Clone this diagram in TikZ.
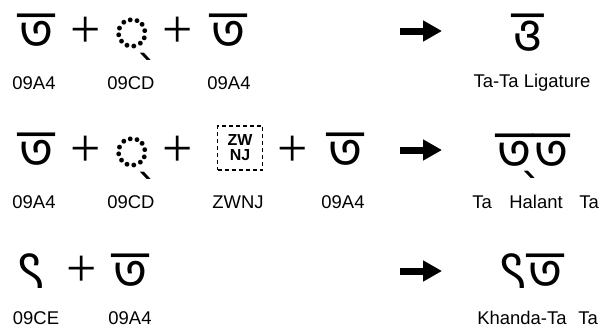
\documentclass[tikz,border=0pt]{standalone}
\usepackage{fontspec}
\setmainfont{Liberation Sans}
\newfontfamily\bn[Script=Bengali]{Hind Siliguri}
\newfontfamily\plusfont{Liberation Serif}
\usetikzlibrary{arrows.meta}
\tikzset{
  glyph/.style={inner sep=0pt, anchor=base, text height=36bp, text depth=6bp, font=\bn\fontsize{54}{56}\selectfont},
  plussign/.style={inner sep=0pt, font=\plusfont\fontsize{54}{56}\selectfont},
  lbl/.style={inner sep=0pt, font=\fontsize{18.5}{20}\selectfont},
  zwbox/.style={draw, dash pattern=on 4bp off 3bp, line width=1.3bp, minimum width=45bp, minimum height=44bp, inner sep=0pt, align=center, font=\bfseries\fontsize{16}{16}\selectfont},
  bigarrow/.style={line width=7bp, -{Triangle[length=19bp,width=20bp]}}
}
\begin{document}
\begin{tikzpicture}[x=1bp,y=-1bp]
\useasboundingbox (0,0) rectangle (600,331);
% Row 1
\node[glyph] (r1a) at (37,48) {ত};
\node[plussign] (r1p1) at (86,32) {+};
\node[glyph] (r1b) at (132,50) {◌্};
\node[plussign] (r1p2) at (178,32) {+};
\node[glyph] (r1c) at (229,48) {ত};
\coordinate (r1s) at (400,31);
\coordinate (r1e) at (442,31);
\draw[bigarrow] (r1s) -- (r1e);
\node[glyph] (r1r) at (528,48) {ত্ত};
\node[lbl] (l1a) at (34,83) {09A4};
\node[lbl] (l1b) at (131,83) {09CD};
\node[lbl] (l1c) at (229,83) {09A4};
\node[lbl] (l1r) at (532,83) {Ta-Ta Ligature};
% Row 2
\node[glyph] (r2a) at (37,167) {ত};
\node[plussign] (r2p1) at (86,151) {+};
\node[glyph] (r2b) at (132,169) {◌্};
\node[plussign] (r2p2) at (178,151) {+};
\node[zwbox] (r2z) at (240,148) {ZW\\[-1bp]NJ};
\node[plussign] (r2p3) at (293,151) {+};
\node[glyph] (r2c) at (346,167) {ত};
\coordinate (r2s) at (400,150);
\coordinate (r2e) at (442,150);
\draw[bigarrow] (r2s) -- (r2e);
\node[glyph] (r2r) at (533,168) {ত্‌ত};
\node[lbl] (l2a) at (34,202) {09A4};
\node[lbl] (l2b) at (131,202) {09CD};
\node[lbl] (l2c) at (238,202) {ZWNJ};
\node[lbl] (l2d) at (343,202) {09A4};
\node[lbl] (l2r1) at (482,202) {Ta};
\node[lbl] (l2r2) at (536,202) {Halant};
\node[lbl] (l2r3) at (589,202) {Ta};
% Row 3
\node[glyph] (r3a) at (31,288) {ৎ};
\node[plussign] (r3p1) at (82,271) {+};
\node[glyph] (r3b) at (131,288) {ত};
\coordinate (r3s) at (400,271);
\coordinate (r3e) at (442,271);
\draw[bigarrow] (r3s) -- (r3e);
\node[glyph] (r3r) at (531,288) {ৎত};
\node[lbl] (l3a) at (36,318) {09CE};
\node[lbl] (l3b) at (130,318) {09A4};
\node[lbl] (l3r1) at (522,318) {Khanda-Ta};
\node[lbl] (l3r2) at (588,318) {Ta};
\end{tikzpicture}
\end{document}
